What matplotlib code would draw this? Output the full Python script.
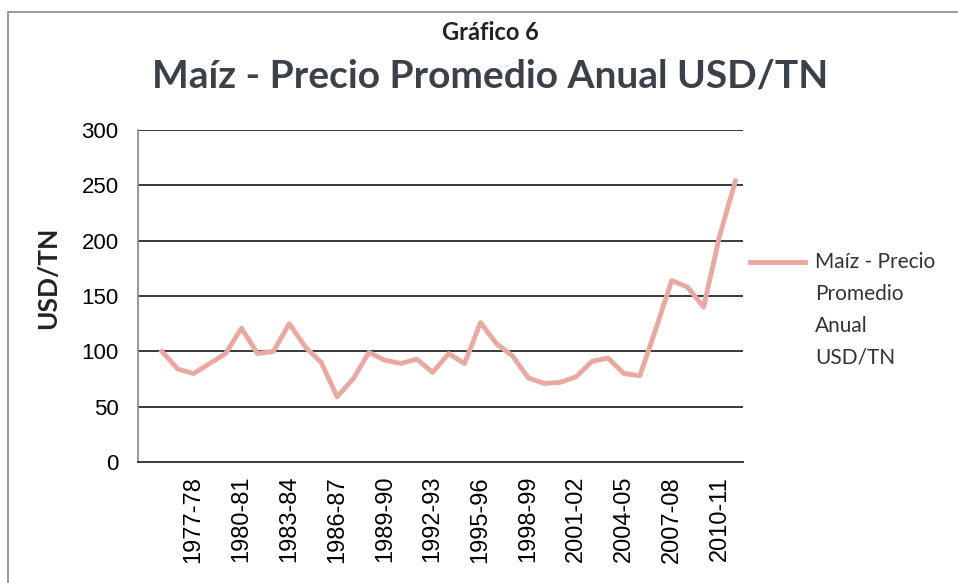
import matplotlib
matplotlib.use("Agg")
import matplotlib.pyplot as plt
from matplotlib.lines import Line2D
from matplotlib.patches import Rectangle

# campañas 1975-76 ... 2011-12
campanias = [f"{y}-{str(y + 1)[-2:]}" for y in range(1975, 2012)]
precios = [100, 84, 80, 89, 98, 121, 98, 100, 125, 104, 90, 59, 75, 99, 92, 89,
           93, 81, 98, 89, 126, 107, 96, 76, 71, 72, 77, 91, 94, 80, 78, 120,
           164, 158, 140, 204, 254]
y_ticks = [0, 50, 100, 150, 200, 250, 300]
serie = "Maíz - Precio Promedio Anual USD/TN"

color_linea = "#E8A9A2"
titulo_col = "#3B4148"

fig = plt.figure(figsize=(9.58, 5.83), dpi=100)
ax = fig.add_axes([0.144, 0.2075, 0.632, 0.5695])

# posicion 0 vacia, datos desde 1
xs = list(range(1, len(campanias) + 1))
ax.plot(xs, precios, color=color_linea, lw=3.5, solid_joinstyle="round", zorder=3)

ax.set_xlim(-0.5, len(campanias) + 0.5)
ax.set_ylim(0, 300)
ax.set_yticks(y_ticks)
ax.set_yticklabels([str(v) for v in y_ticks], fontsize=16, family="Liberation Sans")
ticks = xs[2::3]
ax.set_xticks(ticks)
ax.set_xticklabels([campanias[i - 1] for i in ticks], rotation=90, fontsize=17,
                   family="Liberation Sans")
ax.tick_params(length=0)
ax.tick_params(axis="y", pad=14)
ax.tick_params(axis="x", pad=10)

for v in y_ticks[1:]:
    ax.axhline(v, color="#2a2a2a", lw=1.3, zorder=1)
for s in ["top", "right"]:
    ax.spines[s].set_visible(False)
ax.spines["left"].set_color("#888888")
ax.spines["left"].set_linewidth(1.2)
ax.spines["bottom"].set_color("#2a2a2a")
ax.spines["bottom"].set_linewidth(1.3)

ax.set_ylabel("USD/TN", fontsize=19, fontweight="bold", family="Lato", color="#222222")
ax.yaxis.set_label_coords(-0.128, 0.555)

fig.text(0.512, 0.945, "Gráfico 6", ha="center", va="center", fontsize=17,
         fontweight="bold", family="Lato", color="#222222")
fig.text(0.512, 0.87, serie, ha="center", va="center", fontsize=28,
         fontweight="bold", family="Lato", color=titulo_col)

# leyenda
fig.add_artist(Line2D([0.783, 0.84], [1 - 262 / 583] * 2, color=color_linea, lw=3.5,
                      transform=fig.transFigure))
fig.text(0.851, 1 - 252 / 583, "Maíz - Precio\nPromedio\nAnual\nUSD/TN", ha="left",
         va="top", fontsize=15, family="Lato", color="#333333", linespacing=1.75)

# marco
fig.add_artist(Rectangle((0.008, -0.01), 1.1, 0.99, fill=False, ec="#888888", lw=1.2,
                         transform=fig.transFigure))

fig.savefig("out.png", dpi=100)
